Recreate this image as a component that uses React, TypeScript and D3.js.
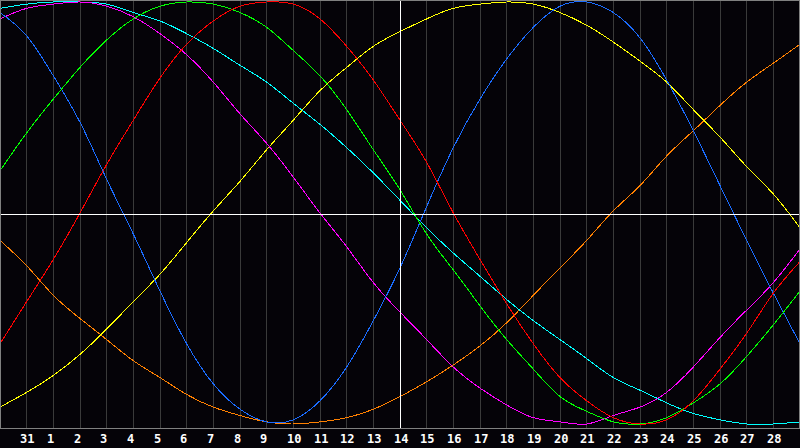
import { useRef, useEffect } from "react";
import * as d3 from "d3";

// day labels for each vertical grid line (first and last fall on the frame)
const days = ["30", "31", "1", "2", "3", "4", "5", "6", "7", "8", "9", "10", "11", "12", "13", "14",
  "15", "16", "17", "18", "19", "20", "21", "22", "23", "24", "25", "26", "27", "28", "29"];
const today = "14";

// cycle values in percent, one per grid line
const physical = [95, 84, 65, 43, 16, -10, -37, -62, -81, -93, -99, -98, -89, -73, -51, -26, 3, 31, 54, 73, 88, 98, 100, 95, 83, 63, 39, 13, -13, -38, -62];
const emotional = [-62, -42, -22, 0, 23, 44, 64, 80, 91, 98, 100, 99, 92, 79, 63, 44, 24, 0, -22, -43, -62, -78, -89, -97, -100, -98, -89, -74, -57, -38, -23];
const intellectual = [20, 38, 54, 69, 82, 92, 98, 100, 99, 95, 88, 77, 65, 49, 30, 11, -10, -27, -44, -60, -74, -87, -94, -99, -100, -97, -90, -81, -68, -53, -37];
const intuitive = [92, 97, 99, 100, 98, 93, 85, 75, 62, 47, 33, 17, 0, -16, -33, -47, -60, -73, -83, -91, -97, -99, -100, -96, -92, -85, -73, -59, -46, -33, -17];
const aesthetic = [-92, -85, -77, -67, -55, -42, -29, -14, 1, 15, 30, 44, 58, 69, 79, 86, 92, 97, 99, 100, 99, 95, 89, 81, 72, 62, 49, 36, 22, 9, -7];
const awareness = [-13, -25, -39, -50, -60, -70, -78, -86, -92, -96, -99, -100, -99, -97, -93, -87, -80, -72, -63, -52, -39, -26, -13, 1, 13, 27, 39, 51, 62, 71, 80];
const spiritual = [97, 99, 100, 100, 99, 95, 91, 85, 78, 70, 62, 52, 42, 31, 19, 6, -7, -19, -30, -41, -51, -60, -69, -78, -84, -90, -95, -98, -100, -100, -99];

const cycles = [
  { values: awareness, color: "#ff8000" },
  { values: aesthetic, color: "#ffff00" },
  { values: spiritual, color: "#00ffff" },
  { values: intuitive, color: "#ff00ff" },
  { values: physical, color: "#1a6cff" },
  { values: intellectual, color: "#00ff00" },
  { values: emotional, color: "#ff0000" },
];

const BG = "#050308";

export default function App() {
  const svgRef = useRef<SVGSVGElement>(null);

  useEffect(() => {
    if (!svgRef.current) return;
    const svg = d3.select(svgRef.current);
    svg.selectAll("*").remove();

    const width = 800;
    const height = 448;
    const plotBottom = 428;

    svg.append("rect").attr("width", width).attr("height", height).attr("fill", BG);

    const x = d3.scaleLinear().domain([0, days.length - 1]).range([0, width]);
    const y = d3.scaleLinear().domain([-100, 100]).range([424, 2]);
    const px = (i: number) => Math.floor(x(i)) + 0.5;

    // grid
    svg.append("g")
      .selectAll("line")
      .data(days)
      .enter()
      .append("line")
      .attr("x1", (_, i) => px(i))
      .attr("x2", (_, i) => px(i))
      .attr("y1", 0)
      .attr("y2", plotBottom)
      .attr("stroke", "#3a3a3a")
      .attr("shape-rendering", "crispEdges");

    const clip = svg.append("clipPath").attr("id", "plot");
    clip.append("rect").attr("x", 1).attr("y", 1).attr("width", width - 2).attr("height", plotBottom - 1);

    const line = d3.line<number>()
      .x((_, i) => x(i))
      .y((d) => y(d))
      .curve(d3.curveNatural);

    const curves = svg.append("g").attr("clip-path", "url(#plot)");
    cycles.forEach((c) => {
      curves.append("path")
        .datum(c.values)
        .attr("fill", "none")
        .attr("stroke", c.color)
        .attr("stroke-width", 1)
        .attr("shape-rendering", "crispEdges")
        .attr("d", line);
    });

    // today + zero line
    const t = days.indexOf(today);
    svg.append("line")
      .attr("x1", px(t)).attr("x2", px(t))
      .attr("y1", 0).attr("y2", plotBottom)
      .attr("stroke", "#ffffff")
      .attr("shape-rendering", "crispEdges");
    svg.append("line")
      .attr("x1", 0).attr("x2", width)
      .attr("y1", Math.round(y(0)) + 1.5).attr("y2", Math.round(y(0)) + 1.5)
      .attr("stroke", "#ffffff")
      .attr("shape-rendering", "crispEdges");

    // frame
    svg.append("rect")
      .attr("x", 0.5).attr("y", 0.5)
      .attr("width", width - 1).attr("height", plotBottom)
      .attr("fill", "none")
      .attr("stroke", "#808080")
      .attr("shape-rendering", "crispEdges");

    // day labels
    svg.append("g")
      .selectAll("text")
      .data(days.slice(1, -1))
      .enter()
      .append("text")
      .attr("x", (_, i) => Math.floor(x(i + 1)) - 6)
      .attr("y", 443)
      .attr("fill", "#ffffff")
      .attr("font-family", "DejaVu Sans Mono")
      .attr("font-weight", "bold")
      .attr("font-size", 12)
      .text((d) => d);
  }, []);

  return (
    <svg
      ref={svgRef}
      width={800}
      height={448}
      style={{ position: "absolute", left: 0, top: 0, display: "block" }}
    />
  );
}
